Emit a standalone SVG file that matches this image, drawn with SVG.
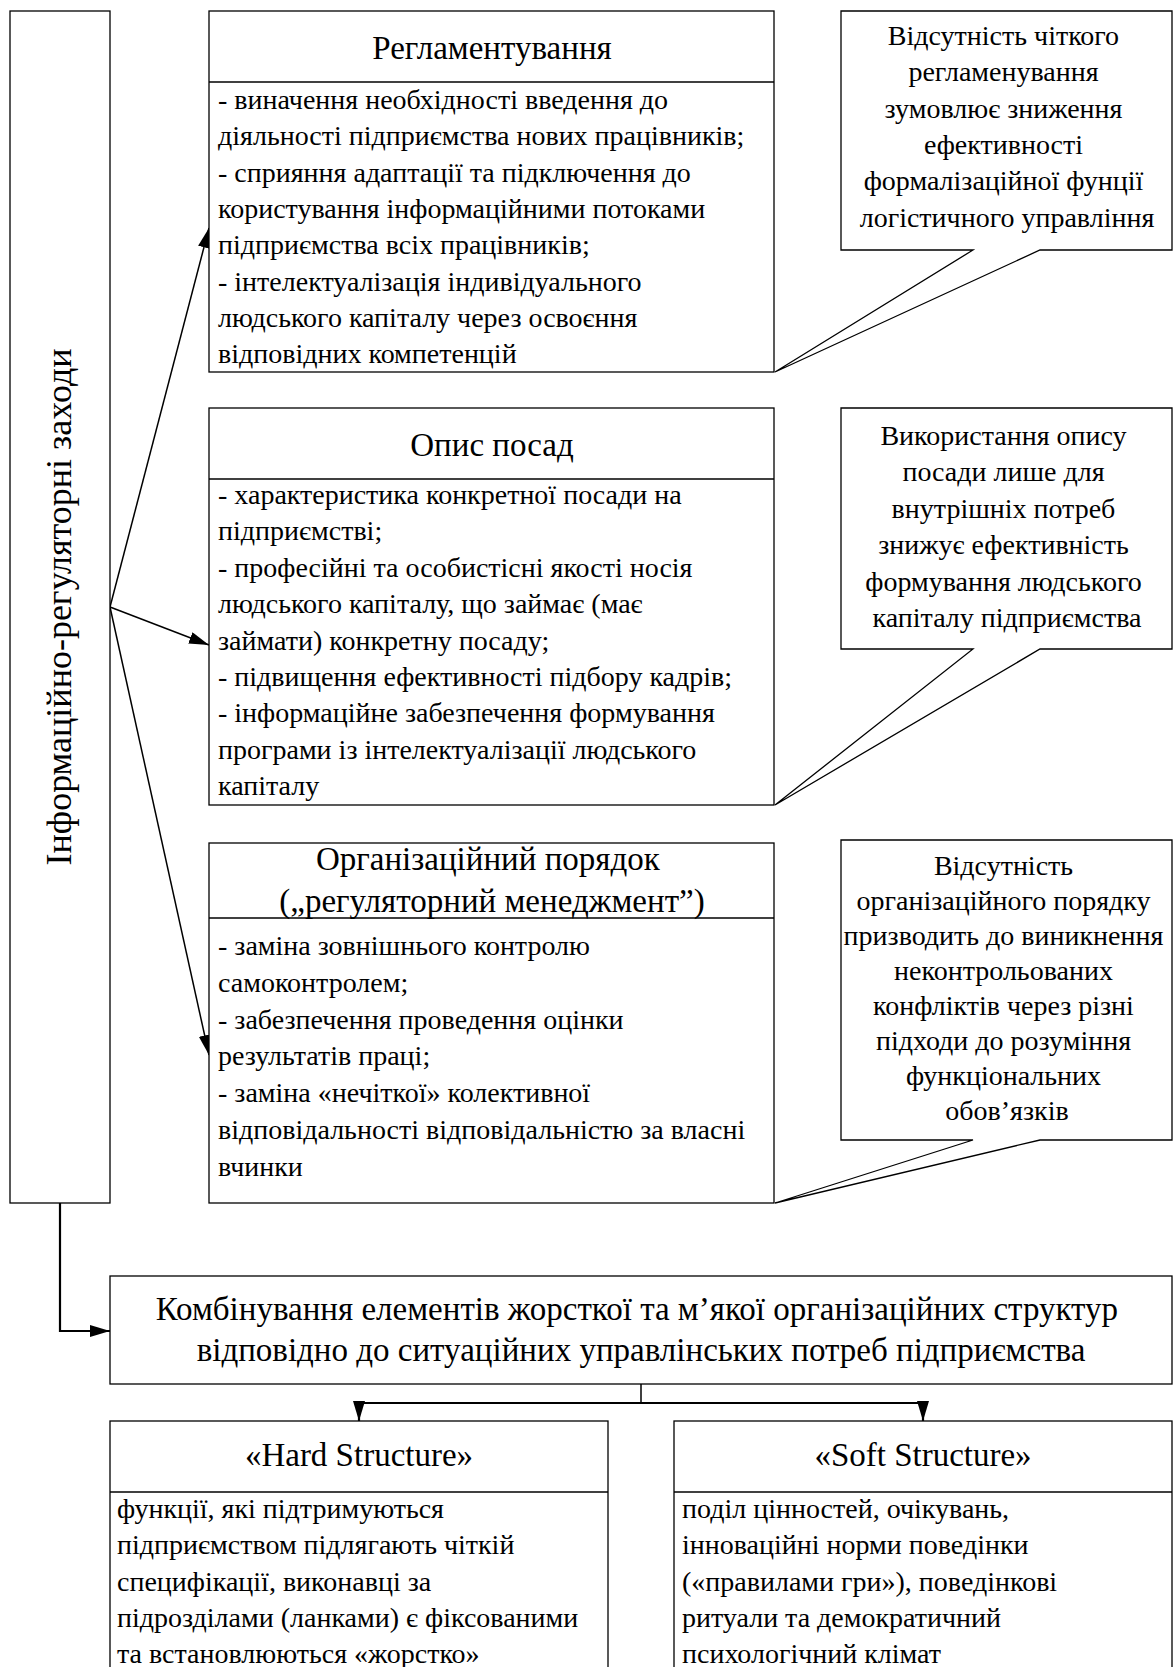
<svg xmlns="http://www.w3.org/2000/svg" width="1173" height="1667" viewBox="0 0 1173 1667">
<style>
  .box { fill: #fff; stroke: #000; stroke-width: 1.3; }
  .ln { fill: none; stroke: #000; stroke-width: 1.3; }
  .t { font-family: "Liberation Serif", "Times New Roman", serif; fill: #000; }
  .body { font-size: 28px; }
  .title { font-size: 33px; text-anchor: middle; }
  .call { font-size: 28px; text-anchor: middle; }
  .big { font-size: 33px; text-anchor: middle; }
  .vert { font-size: 36px; text-anchor: middle; }
  .con { fill: none; stroke: #000; stroke-width: 1.5; }
  .con2 { fill: none; stroke: #000; stroke-width: 2.2; }
</style>
<defs>
  <marker id="ah" viewBox="0 0 20 12" refX="20" refY="6" markerWidth="20" markerHeight="12" markerUnits="userSpaceOnUse" orient="auto">
    <path d="M0,0 L20,6 L0,12 Z" fill="#000"/>
  </marker>
</defs>

<g id="connectors">
  <line class="con" x1="110" y1="607" x2="209" y2="228" marker-end="url(#ah)"/>
  <line class="con" x1="110" y1="607" x2="209" y2="645" marker-end="url(#ah)"/>
  <line class="con" x1="110" y1="607" x2="209" y2="1055" marker-end="url(#ah)"/>
  <polyline class="con2" points="60,1203 60,1331 110,1331" marker-end="url(#ah)"/>
  <line class="con" x1="641" y1="1384" x2="641" y2="1403"/>
  <line class="con2" x1="358" y1="1403" x2="924" y2="1403"/>
  <line class="con2" x1="359" y1="1403" x2="359" y2="1421" marker-end="url(#ah)"/>
  <line class="con2" x1="923" y1="1403" x2="923" y2="1421" marker-end="url(#ah)"/>
</g>

<g id="left">
  <rect class="box" x="10" y="11" width="100" height="1192"/>
  <text class="t vert" transform="translate(71,607) rotate(-90)">Інформаційно-регуляторні заходи</text>
</g>

<g id="box1">
  <rect class="box" x="209" y="11" width="565" height="361"/>
  <line class="ln" x1="209" y1="82" x2="774" y2="82"/>
  <text class="t title" x="492" y="59">Регламентування</text>
  <text class="t body" x="218">
    <tspan x="218" y="109">- виначення необхідності введення до</tspan>
    <tspan x="218" y="145.3">діяльності підприємства нових працівників;</tspan>
    <tspan x="218" y="181.6">- сприяння адаптації та підключення до</tspan>
    <tspan x="218" y="217.9">користування інформаційними потоками</tspan>
    <tspan x="218" y="254.2">підприємства всіх працівників;</tspan>
    <tspan x="218" y="290.5">- інтелектуалізація індивідуального</tspan>
    <tspan x="218" y="326.8">людського капіталу через освоєння</tspan>
    <tspan x="218" y="363.1">відповідних компетенцій</tspan>
  </text>
</g>

<g id="callout1">
  <path class="box" d="M841,11 H1172 V250 H1040 L775,372 L973,250 H841 Z"/>
  <text class="t call">
    <tspan x="1007" y="45">Відсутність чіткого</tspan>
    <tspan x="1007" y="81.3">регламенування</tspan>
    <tspan x="1007" y="117.6">зумовлює зниження</tspan>
    <tspan x="1007" y="153.9">ефективності</tspan>
    <tspan x="1007" y="190.2">формалізаційної фунції</tspan>
    <tspan x="1007" y="226.5">логістичного управління</tspan>
  </text>
</g>

<g id="box2">
  <rect class="box" x="209" y="408" width="565" height="397"/>
  <line class="ln" x1="209" y1="479" x2="774" y2="479"/>
  <text class="t title" x="492" y="456">Опис посад</text>
  <text class="t body">
    <tspan x="218" y="504">- характеристика конкретної посади на</tspan>
    <tspan x="218" y="540.4">підприємстві;</tspan>
    <tspan x="218" y="576.8">- професійні та особистісні якості носія</tspan>
    <tspan x="218" y="613.2">людського капіталу, що займає (має</tspan>
    <tspan x="218" y="649.6">займати) конкретну посаду;</tspan>
    <tspan x="218" y="686">- підвищення ефективності підбору кадрів;</tspan>
    <tspan x="218" y="722.4">- інформаційне забезпечення формування</tspan>
    <tspan x="218" y="758.8">програми із інтелектуалізації людського</tspan>
    <tspan x="218" y="795.2">капіталу</tspan>
  </text>
</g>

<g id="callout2">
  <path class="box" d="M841,408 H1172 V649 H1040 L775,805 L973,649 H841 Z"/>
  <text class="t call">
    <tspan x="1007" y="444.5">Використання опису</tspan>
    <tspan x="1007" y="481">посади лише для</tspan>
    <tspan x="1007" y="517.5">внутрішніх потреб</tspan>
    <tspan x="1007" y="554">знижує ефективність</tspan>
    <tspan x="1007" y="590.5">формування людського</tspan>
    <tspan x="1007" y="627">капіталу підприємства</tspan>
  </text>
</g>

<g id="box3">
  <rect class="box" x="209" y="843" width="565" height="360"/>
  <line class="ln" x1="209" y1="918" x2="774" y2="918"/>
  <text class="t title">
    <tspan x="492" y="870">Організаційний порядок</tspan>
    <tspan x="492" y="912">(„регуляторний менеджмент”)</tspan>
  </text>
  <text class="t body">
    <tspan x="218" y="955">- заміна зовнішнього контролю</tspan>
    <tspan x="218" y="991.8">самоконтролем;</tspan>
    <tspan x="218" y="1028.6">- забезпечення проведення оцінки</tspan>
    <tspan x="218" y="1065.4">результатів праці;</tspan>
    <tspan x="218" y="1102.2">- заміна «нечіткої» колективної</tspan>
    <tspan x="218" y="1139">відповідальності відповідальністю за власні</tspan>
    <tspan x="218" y="1175.8">вчинки</tspan>
  </text>
</g>

<g id="callout3">
  <path class="box" d="M841,840 H1172 V1140 H1040 L775,1203 L973,1140 H841 Z"/>
  <text class="t call">
    <tspan x="1007" y="875">Відсутність</tspan>
    <tspan x="1007" y="910">організаційного порядку</tspan>
    <tspan x="1007" y="945">призводить до виникнення</tspan>
    <tspan x="1007" y="980">неконтрольованих</tspan>
    <tspan x="1007" y="1015">конфліктів через різні</tspan>
    <tspan x="1007" y="1050">підходи до розуміння</tspan>
    <tspan x="1007" y="1085">функціональних</tspan>
    <tspan x="1007" y="1120">обов’язків</tspan>
  </text>
</g>

<g id="box4">
  <rect class="box" x="110" y="1276" width="1062" height="108"/>
  <text class="t big">
    <tspan x="641" y="1320">Комбінування елементів жорсткої та м’якої організаційних структур</tspan>
    <tspan x="641" y="1361">відповідно до ситуаційних управлінських потреб підприємства</tspan>
  </text>
</g>

<g id="box5">
  <rect class="box" x="110" y="1421" width="498" height="270"/>
  <line class="ln" x1="110" y1="1492" x2="608" y2="1492"/>
  <text class="t title" x="359" y="1466">«Hard Structure»</text>
  <text class="t body">
    <tspan x="117" y="1518">функції, які підтримуються</tspan>
    <tspan x="117" y="1554.3">підприємством підлягають чіткій</tspan>
    <tspan x="117" y="1590.6">специфікації, виконавці за</tspan>
    <tspan x="117" y="1626.9">підрозділами (ланками) є фіксованими</tspan>
    <tspan x="117" y="1663.2">та встановлюються «жорстко»</tspan>
  </text>
</g>

<g id="box6">
  <rect class="box" x="674" y="1421" width="498" height="270"/>
  <line class="ln" x1="674" y1="1492" x2="1172" y2="1492"/>
  <text class="t title" x="923" y="1466">«Soft Structure»</text>
  <text class="t body">
    <tspan x="682" y="1518">поділ цінностей, очікувань,</tspan>
    <tspan x="682" y="1554.3">інноваційні норми поведінки</tspan>
    <tspan x="682" y="1590.6">(«правилами гри»), поведінкові</tspan>
    <tspan x="682" y="1626.9">ритуали та демократичний</tspan>
    <tspan x="682" y="1663.2">психологічний клімат</tspan>
  </text>
</g>
</svg>
